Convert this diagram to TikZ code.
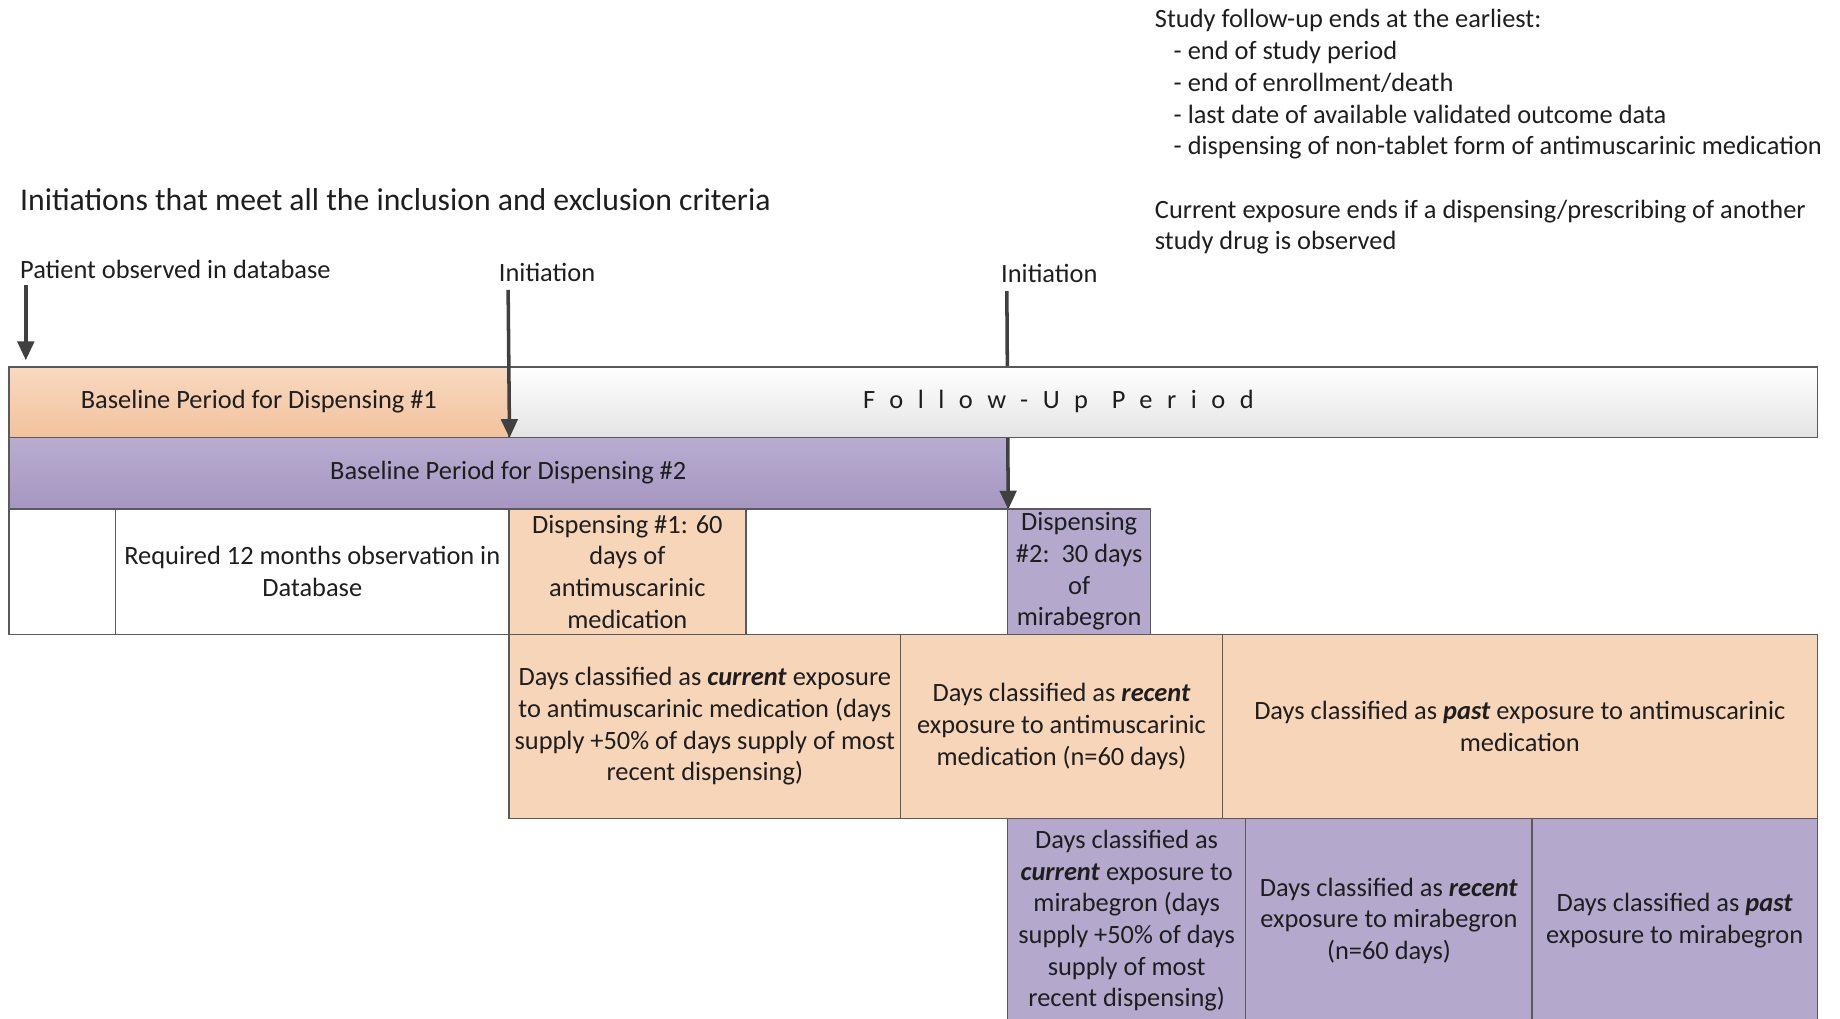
\documentclass[tikz,border=0pt]{standalone}
\usepackage{fontspec}
\setmainfont{Carlito}
\usetikzlibrary{arrows.meta}
\definecolor{peach}{HTML}{F7D5B8}
\definecolor{peachtop}{HTML}{F8D9C0}
\definecolor{peachbot}{HTML}{F2C29D}
\definecolor{lav}{HTML}{B4A9CC}
\definecolor{lavtop}{HTML}{B8ADD1}
\definecolor{lavbot}{HTML}{A696C1}
\definecolor{edge}{HTML}{5A5A5A}
\definecolor{arrowc}{HTML}{404040}
\definecolor{txt}{HTML}{1E1E1E}
\definecolor{fugray}{HTML}{E4E4E4}
\begin{document}
\begin{tikzpicture}[x=1pt,y=-1pt,
  every node/.style={text=txt, font=\fontsize{22.5}{27}\selectfont},
  cell/.style={draw=edge, line width=1.2pt, anchor=north west, inner sep=0pt, align=center},
  arr/.style={draw=arrowc, line width=3pt, -{Triangle[length=16pt,width=14pt]}},
  lbl/.style={anchor=west, inner sep=0pt},
  para/.style={anchor=north west, inner sep=0pt, align=left}]
\useasboundingbox (0,0) rectangle (1568,868);

% top right notes
\node[para] (ends) at (984,8) {Study follow-up ends at the earliest:\\
\hspace*{16pt}- end of study period\\
\hspace*{16pt}- end of enrollment/death\\
\hspace*{16pt}- last date of available validated outcome data\\
\hspace*{16pt}- dispensing of non-tablet form of antimuscarinic medication};
\node[para] (curends) at (984,170) {Current exposure ends if a dispensing/prescribing of another\\
study drug is observed};

% labels
\node[lbl, font=\fontsize{27}{32}\selectfont] (title) at (17,170) {Initiations that meet all the inclusion and exclusion criteria};
\node[lbl] (pobs) at (17,230) {Patient observed in database};
\node[lbl] (init1) at (425,232) {Initiation};
\node[lbl] (init2) at (853,233) {Initiation};

% row 2 (drawn first so the second arrow runs behind row 1)
\node[cell, top color=lavtop, bottom color=lavbot, minimum width=851pt, minimum height=61pt] (base2) at (7,372) {Baseline Period for Dispensing \#2};
\coordinate (a3s) at (858,248);
\draw[arr] (a3s) -- (base2.south east);

% row 1
\node[cell, top color=white, bottom color=fugray, minimum width=1115pt, minimum height=60pt] (fu) at (433,312) {};
\node[cell, top color=peachtop, bottom color=peachbot, minimum width=426pt, minimum height=60pt] (base1) at (7,312) {Baseline Period for Dispensing \#1};
\node (futext) at (902,342) {\addfontfeature{LetterSpace=55}Follow-Up\hspace{0.9em}Period};

% row 3
\node[cell, fill=white, minimum width=91pt, minimum height=107pt] (blank) at (7,433) {};
\node[cell, fill=white, minimum width=335pt, minimum height=107pt] (req) at (98,433) {Required 12 months observation in\\Database};
\node[cell, fill=peach, minimum width=202pt, minimum height=107pt] (disp1) at (433,433) {Dispensing \#1: 60\\days of\\antimuscarinic\\medication};
\node[cell, fill=lav, minimum width=122pt, minimum height=107pt] (disp2) at (858,433) {Dispensing\\\#2:\ \ 30 days\\of\\mirabegron};

% row 4
\node[cell, fill=peach, minimum width=334pt, minimum height=157pt] (cur1) at (433,540) {Days classified as \textbf{\textit{current}} exposure\\to antimuscarinic medication (days\\supply +50\% of days supply of most\\recent dispensing)};
\node[cell, fill=peach, minimum width=274pt, minimum height=157pt] (rec1) at (767,540) {Days classified as \textbf{\textit{recent}}\\exposure to antimuscarinic\\medication (n=60 days)};
\node[cell, fill=peach, minimum width=507pt, minimum height=157pt] (past1) at (1041,540) {Days classified as \textbf{\textit{past}} exposure to antimuscarinic\\medication};

% row 5
\node[cell, fill=lav, minimum width=203pt, minimum height=174pt] (cur2) at (858,697) {Days classified as\\\textbf{\textit{current}} exposure to\\mirabegron (days\\supply +50\% of days\\supply of most\\recent dispensing)};
\node[cell, fill=lav, minimum width=244pt, minimum height=174pt] (rec2) at (1061,697) {Days classified as \textbf{\textit{recent}}\\exposure to mirabegron\\(n=60 days)};
\node[cell, fill=lav, minimum width=243pt, minimum height=174pt] (past2) at (1305,697) {Days classified as \textbf{\textit{past}}\\exposure to mirabegron};

% arrows
\coordinate (a1s) at (22,243);
\coordinate (a1e) at (22,307);
\coordinate (a2s) at (433,247);
\draw[arr] (a1s) -- (a1e);
\draw[arr] (a2s) -- (base1.south east);
\end{tikzpicture}
\end{document}
